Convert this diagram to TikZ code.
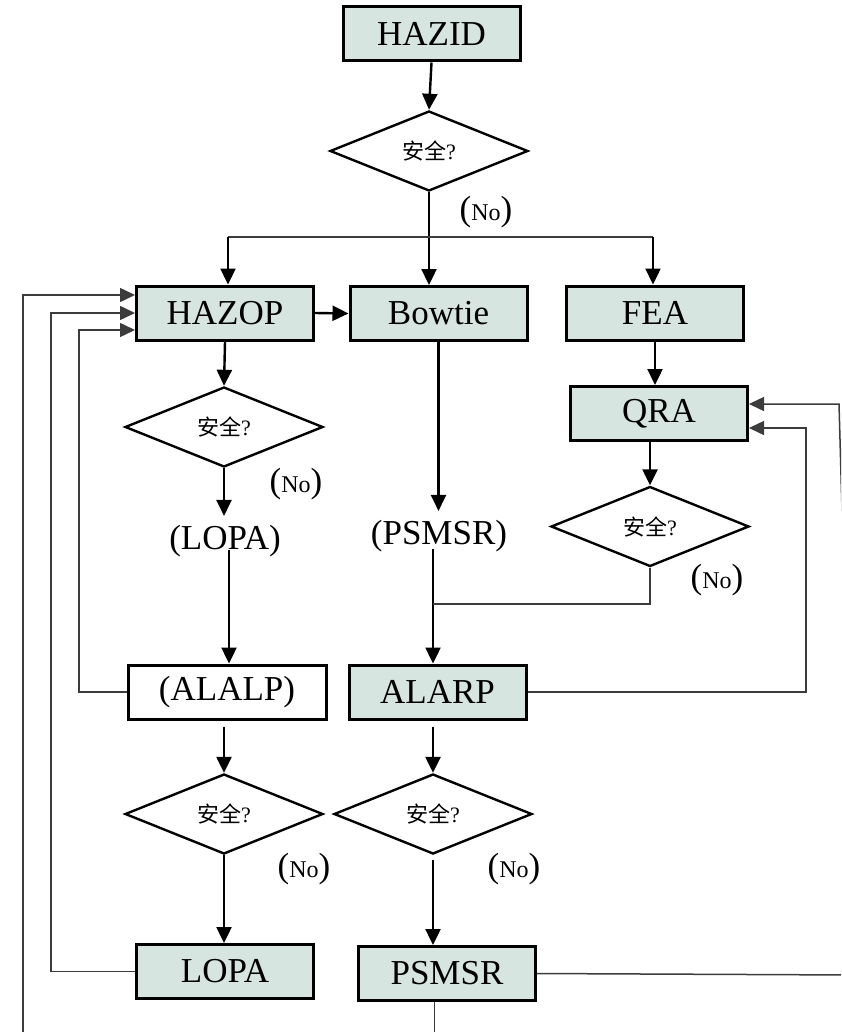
\documentclass[tikz,border=0pt]{standalone}
\usepackage{fontspec}
\setmainfont{Liberation Serif}
\newfontfamily\cjk{Noto Sans CJK SC}
\usetikzlibrary{shapes.geometric,arrows.meta}
\definecolor{boxfill}{RGB}{215,229,224}
\definecolor{linegray}{RGB}{60,60,60}
\newcommand{\safeq}{{\cjk 安全}?}
\newcommand{\nolabel}{{\fontsize{35}{36}\selectfont(}No{\fontsize{35}{36}\selectfont)}}

\begin{document}
\begin{tikzpicture}[x=1pt,y=-1pt]
\tikzstyle{stage}=[rectangle,draw,line width=3pt,fill=boxfill,minimum width=177pt,minimum height=54pt,inner sep=0pt,font=\fontsize{35}{40}\selectfont]
\tikzstyle{open}=[stage,fill=white,minimum width=198pt]
\tikzstyle{check}=[diamond,draw,line width=2.4pt,minimum width=198pt,minimum height=80pt,inner sep=0pt,font=\fontsize{22}{24}\selectfont]
\tikzstyle{plain}=[inner sep=9pt,font=\fontsize{35}{40}\selectfont]
\tikzstyle{nolab}=[inner sep=0pt,font=\fontsize{24}{26}\selectfont]
\tikzstyle{arr}=[line width=2.4pt,-{Triangle[length=16pt,width=15pt]}]
\tikzstyle{back}=[line width=1.5pt,draw=linegray,-{Triangle[length=15pt,width=14pt]}]
\tikzstyle{link}=[line width=1.5pt,draw=linegray]
\clip (0,0) rectangle (841,1032);

% top
\node[stage] (hazid) at (431.5,34) {HAZID};
\node[check] (chk1) at (429,151) {\safeq};
\node[nolab] (no1) at (486,212) {\nolabel};

% second row
\node[stage] (hazop) at (225,313) {HAZOP};
\node[stage] (bowtie) at (438.5,313.5) {Bowtie};
\node[stage] (fea) at (655,313) {FEA};

% middle
\node[check] (chk2) at (224,427) {\safeq};
\node[nolab] (no2) at (296,484) {\nolabel};
\node[plain] (lopaq) at (225,541) {(LOPA)};
\node[plain] (psmsrq) at (439,536) {(PSMSR)};
\node[stage] (qra) at (659,413.5) {QRA};
\node[check] (chk3) at (650,526.5) {\safeq};
\node[nolab] (no3) at (717,580) {\nolabel};

% ALARP row
\node[open] (alalp) at (227,692) {(ALALP)};
\node[stage] (alarp) at (437.5,692) {ALARP};
\node[check] (chk4) at (224,814) {\safeq};
\node[nolab] (no4) at (304,869) {\nolabel};
\node[check] (chk5) at (433,814) {\safeq};
\node[nolab] (no5) at (514,869) {\nolabel};

% bottom
\node[stage] (lopa) at (225,971.5) {LOPA};
\node[stage] (psmsr) at (447,973.5) {PSMSR};

% corner points
\coordinate (splitl) at (228,237);
\coordinate (splitr) at (653,237);
\coordinate (lopaout) at (229,550);
\coordinate (psmsrout) at (433,549);
\coordinate (join) at (433,604);
\coordinate (qraback) at (806,428);
\coordinate (qraedge) at (839,404);
\coordinate (edgelow) at (855,975);
\coordinate (hazop1) at (23,295);
\coordinate (hazop2) at (51,313);
\coordinate (hazop3) at (79,330);
\coordinate (under) at (434.5,1050);

% flow
\draw[arr] (hazid.south) -- (chk1.north);
\draw[arr] (chk1.south) -- (chk1.south |- bowtie.north);
\draw[link] (splitl) -- (splitr);
\draw[arr] (splitl) -- (splitl |- hazop.north);
\draw[arr] (splitr) -- (splitr |- fea.north);
\draw[arr] (hazop.east) -- (bowtie.west);
\draw[arr] (hazop.south) -- (chk2.north);
\draw[arr] (chk2.south) -- (chk2.south |- lopaq.north);
\draw[arr] (lopaout) -- (lopaout |- alalp.north);
\draw[arr] (bowtie.south) -- (bowtie.south |- psmsrq.north);
\draw[arr] (psmsrout) -- (psmsrout |- alarp.north);
\draw[arr] (fea.south) -- (fea.south |- qra.north);
\draw[arr] (chk3.north |- qra.south) -- (chk3.north);
\draw[link] (chk3.south) |- (join);
\draw[arr,shorten <=6pt] (chk4.north |- alalp.south) -- (chk4.north);
\draw[arr,shorten <=6pt] (chk5.north |- alarp.south) -- (chk5.north);
\draw[arr] (chk4.south) -- (chk4.south |- lopa.north);
\draw[arr,shorten <=5pt] (chk5.south) -- (chk5.south |- psmsr.north);

% feedback
\draw[back] (alarp.east) -| (qraback) -- (qraback -| qra.east);
\draw[back] (psmsr.east) -- (edgelow) -- (qraedge) -- (qraedge -| qra.east);
\draw[back] (alalp.west) -| (hazop3) -- (hazop3 -| hazop.west);
\draw[back] (lopa.west) -| (hazop2) -- (hazop2 -| hazop.west);
\draw[back] (under |- psmsr.south) -- (under) -| (hazop1) -- (hazop1 -| hazop.west);
\end{tikzpicture}
\end{document}
